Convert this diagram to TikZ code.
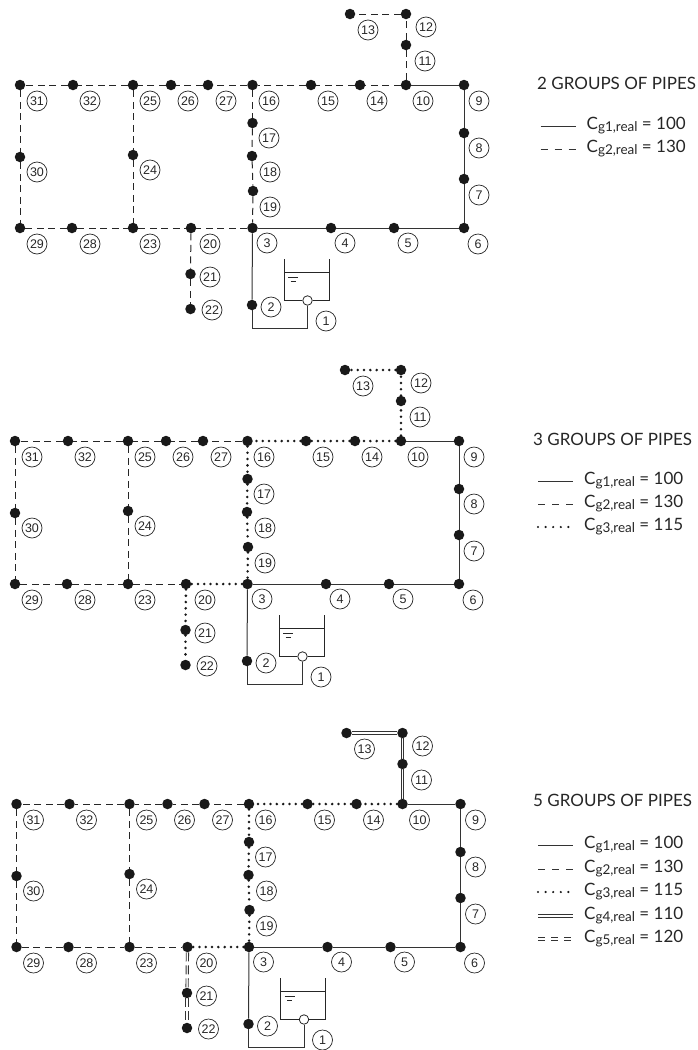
\documentclass[tikz,border=0pt]{standalone}
\usepackage{fontspec}
\setmainfont{Lato}
\newfontfamily\labelfont{Liberation Sans}
\newcommand{\cg}[2]{C\raisebox{-2pt}{\fontsize{13.5}{15}\selectfont g#1,real} = #2}
\tikzset{
  x=1pt,y=-1pt,
  solidp/.style={line width=1pt,draw=black!80},
  dashp/.style={line width=1pt,draw=black!85,dash pattern=on 7pt off 4.5pt},
  dotp/.style={line width=2.8pt,draw=black!90,line cap=round,dash pattern=on 0pt off 6.3pt},
  thinp/.style={line width=.9pt,draw=black!80},
  dblv/.style={draw=none,preaction={draw,thinp,transform canvas={xshift=-1.15pt}},postaction={draw,thinp,transform canvas={xshift=1.15pt}}},
  dblh/.style={draw=none,preaction={draw,thinp,transform canvas={yshift=-1.15pt}},postaction={draw,thinp,transform canvas={yshift=1.15pt}}},
  dbldv/.style={draw=none,preaction={draw,thinp,dash pattern=on 9pt off 4pt,transform canvas={xshift=-1.15pt}},postaction={draw,thinp,dash pattern=on 9pt off 4pt,transform canvas={xshift=1.15pt}}},
  dbldh/.style={draw=none,preaction={draw,thinp,dash pattern=on 7pt off 6pt,transform canvas={yshift=-1.15pt}},postaction={draw,thinp,dash pattern=on 7pt off 6pt,transform canvas={yshift=1.15pt}}},
  legdash/.style={line width=1pt,draw=black!80,dash pattern=on 7pt off 7pt},
  legdot/.style={line width=2.4pt,draw=black!90,line cap=round,dash pattern=on 0pt off 7.6pt},
  junction/.style={circle,fill=black!90,draw=none,minimum size=10.5pt,inner sep=0pt},
  numlabel/.style={circle,draw=black!85,line width=.7pt,minimum size=20pt,inner sep=0pt,font=\labelfont\fontsize{12.5}{14}\selectfont,text=black!85},
  valve/.style={circle,draw=black!85,fill=white,line width=.8pt,minimum size=9.5pt,inner sep=0pt},
  tankline/.style={line width=.9pt,draw=black!85},
  legtitle/.style={anchor=west,inner sep=0pt,font=\fontsize{17}{19}\selectfont,text=black!85},
  legtext/.style={anchor=west,inner sep=0pt,font=\fontsize{17}{19}\selectfont,text=black!85},
}
\newcommand{\panel}[8]{% prefix dx dy  styles: Bv Bh C D E
\begin{scope}[shift={(#2,#3)}]
\foreach \n/\x/\y in {13/350/14,12/406/14,11/406/45,10/406/85,9/464/85,8/464/133,7/464/179,6/464/228,5/394/228,4/331/228,3/252.5/228,2/252/305,14/360/85,15/311/85,16/252.5/85,17/252.5/123,18/252/156,19/253/191,20/191/228,21/190.5/274,22/190.5/309,23/133/228,24/133/155,25/133/85,26/171/85,27/208/85,28/72/228,29/20/228,30/20/157,31/20/85,32/73/85}
  \node[junction] (#1\n) at (\x,\y) {};
\foreach \n/\x/\y in {13/368/30,12/426/27,11/425/61,10/423/101,9/479/101,8/479/148,7/479/195,6/478/244,5/408/243,4/345/243,3/267/243,2/271/307,1/326/321,14/377/101,15/328/101,16/269/101,17/269/138,18/270/172,19/270/207,20/210/244,21/210/277,22/212/310,23/150/244,24/150/170,25/150/101,26/188/101,27/226/101,28/90/244,29/37/244,30/37/172,31/37/101,32/90/101}
  \node[numlabel] (#1L\n) at (\x,\y) {\n};
% tank
\node[valve] (#1V) at (307.5,300.5) {};
\coordinate (#1Q) at (307.5,328.5);
\coordinate (#1P) at (252,328.5);
\coordinate (#1TA) at (284,259);
\coordinate (#1TB) at (284,300.5);
\coordinate (#1TC) at (329,300.5);
\coordinate (#1TD) at (329,259);
\draw[tankline] (#1TA) -- (#1TB) -- (#1V) -- (#1TC) -- (#1TD);
\coordinate (#1WA) at (284,272);
\coordinate (#1WB) at (329,272);
\draw[tankline] (#1WA) -- (#1WB);
\coordinate (#1SA) at (288,277);
\coordinate (#1SB) at (298,277);
\coordinate (#1SC) at (290.5,281);
\coordinate (#1SD) at (295.5,281);
\draw[tankline] (#1SA) -- (#1SB) (#1SC) -- (#1SD);
% solid group
\draw[solidp] (#1V) -- (#1Q) -- (#1P) -- (#12);
\draw[solidp] (#12) -- (#13);
\draw[solidp] (#13) -- (#14);
\draw[solidp] (#14) -- (#15);
\draw[solidp] (#15) -- (#16);
\draw[solidp] (#16) -- (#17);
\draw[solidp] (#17) -- (#18);
\draw[solidp] (#18) -- (#19);
\draw[solidp] (#19) -- (#110);
% group B
\draw[#4] (#110) -- (#111);
\draw[#4] (#111) -- (#112);
\draw[#5] (#112) -- (#113);
% group C
\draw[#6] (#110) -- (#114);
\draw[#6] (#114) -- (#115);
\draw[#6] (#115) -- (#116);
\draw[#6] (#116) -- (#117);
\draw[#6] (#117) -- (#118);
\draw[#6] (#118) -- (#119);
\draw[#6] (#119) -- (#13);
\draw[#7] (#13) -- (#120);
% group E
\draw[#8] (#120) -- (#121);
\draw[#8] (#121) -- (#122);
% dashed remainder
\draw[dashp] (#116) -- (#127);
\draw[dashp] (#127) -- (#126);
\draw[dashp] (#126) -- (#125);
\draw[dashp] (#125) -- (#132);
\draw[dashp] (#132) -- (#131);
\draw[dashp] (#131) -- (#130);
\draw[dashp] (#130) -- (#129);
\draw[dashp] (#129) -- (#128);
\draw[dashp] (#128) -- (#123);
\draw[dashp] (#123) -- (#120);
\draw[dashp] (#125) -- (#124);
\draw[dashp] (#124) -- (#123);
\end{scope}
}
\newcommand{\legline}[4]{% prefix y style
\coordinate (#1a) at (538,#2);
\coordinate (#1b) at (573,#2);
\draw[#3] (#1a) -- (#1b);
\node[legtext] (#1t) at (584,#2) {#4};
}
\begin{document}
\begin{tikzpicture}
\useasboundingbox (0,0) rectangle (697,1050);
\panel{a}{0}{0}{dashp}{dashp}{dashp}{dashp}{dashp}
\panel{b}{-5}{356}{dotp}{dotp}{dotp}{dotp}{dotp}
\panel{c}{-3.5}{719}{dblv}{dblh}{dotp}{dotp}{dbldv}
% legends
\node[legtitle] (t1) at (537,83) {2 GROUPS OF PIPES};
\begin{scope}[shift={(2.5,0)}]
\legline{l1}{126}{solidp}{\cg{1}{100}}
\legline{l2}{149}{legdash}{\cg{2}{130}}
\end{scope}
\node[legtitle] (t2) at (533,439) {3 GROUPS OF PIPES};
\legline{m1}{481}{solidp}{\cg{1}{100}}
\legline{m2}{504}{legdash}{\cg{2}{130}}
\legline{m3}{527}{legdot}{\cg{3}{115}}
\node[legtitle] (t3) at (533,800) {5 GROUPS OF PIPES};
\legline{n1}{845}{solidp}{\cg{1}{100}}
\legline{n2}{869}{legdash}{\cg{2}{130}}
\legline{n3}{892}{legdot}{\cg{3}{115}}
\legline{n4}{916}{dblh}{\cg{4}{110}}
\legline{n5}{939}{dbldh}{\cg{5}{120}}
\end{tikzpicture}
\end{document}
